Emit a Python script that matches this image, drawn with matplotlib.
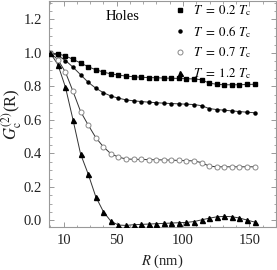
import numpy as np
import matplotlib
matplotlib.use("Agg")
from matplotlib import pyplot as plt
from matplotlib.lines import Line2D
from matplotlib.ticker import FixedLocator, MultipleLocator

plt.rcParams['font.family'] = ['Liberation Serif', 'DejaVu Serif']
plt.rcParams['mathtext.fontset'] = 'stix'

# separation R (nm), 28 points
R = [0.0, 5.7, 11.4, 17.1, 22.8, 28.5, 34.2, 39.9, 45.6, 51.3,
     57.0, 62.7, 68.4, 74.1, 79.8, 85.5, 91.2, 96.9, 102.6, 108.3,
     114.0, 119.7, 125.4, 131.1, 136.8, 142.5, 148.2, 153.9]

g_02 = [1.0, 0.995, 0.982, 0.962, 0.94, 0.918, 0.9, 0.886, 0.875, 0.868,
        0.862, 0.858, 0.855, 0.853, 0.852, 0.85, 0.849, 0.848, 0.846, 0.845,
        0.84, 0.82, 0.813, 0.81, 0.81, 0.81, 0.812, 0.813]
g_06 = [1.0, 0.985, 0.955, 0.915, 0.87, 0.825, 0.79, 0.763, 0.743, 0.73,
        0.72, 0.714, 0.71, 0.706, 0.703, 0.70, 0.698, 0.696, 0.694, 0.692,
        0.685, 0.668, 0.662, 0.658, 0.654, 0.65, 0.646, 0.643]
g_07 = [1.0, 0.96, 0.885, 0.77, 0.65, 0.57, 0.495, 0.44, 0.398, 0.378,
        0.367, 0.365, 0.364, 0.363, 0.362, 0.361, 0.36, 0.358, 0.357, 0.355,
        0.345, 0.324, 0.32, 0.32, 0.32, 0.32, 0.32, 0.32]
g_12 = [1.0, 0.93, 0.795, 0.6, 0.396, 0.277, 0.142, 0.053, -0.005, -0.028,
        -0.03, -0.026, -0.024, -0.022, -0.02, -0.018, -0.016, -0.014, -0.012, -0.007,
        0.003, 0.013, 0.021, 0.024, 0.022, 0.014, 0.002, -0.01]

labels = [r'$T\ =\ 0.2\ T_{\rm c}$', r'$T\ =\ 0.6\ T_{\rm c}$',
          r'$T\ =\ 0.7\ T_{\rm c}$', r'$T\ =\ 1.2\ T_{\rm c}$']

fig = plt.figure(figsize=(2.77, 2.70), dpi=100)
ax = fig.add_axes([0.177, 0.159, 0.819, 0.837])

line_c = '#333333'
styles = [
    dict(marker='s', ms=3.0, mfc='black', mec='black'),
    dict(marker='o', ms=2.2, mfc='black', mec='black'),
    dict(marker='o', ms=3.6, mfc='white', mec='#888888', mew=0.7),
    dict(marker='^', ms=3.6, mfc='black', mec='black'),
]
for g, st in zip([g_02, g_06, g_07, g_12], styles):
    ax.plot(R, g, color=line_c, lw=0.7, zorder=2)
    ax.plot(R, g, ls='none', zorder=3, **st)

handles = [Line2D([], [], ls='none', **st) for st in styles]
ax.legend(handles, labels, loc='upper right', frameon=False, fontsize=9.3,
          handlelength=0.8, handletextpad=0.6, labelspacing=0.45,
          borderaxespad=0.0, borderpad=0.0, bbox_to_anchor=(0.89, 0.99))

ax.text(0.25, 0.915, 'Holes', transform=ax.transAxes, fontsize=10.5)

ax.set_xlim(-1, 170)
ax.set_ylim(-0.04, 1.31)
ax.xaxis.set_major_locator(FixedLocator([10, 50, 100, 150]))
ax.xaxis.set_minor_locator(MultipleLocator(10))
ax.yaxis.set_major_locator(MultipleLocator(0.2))
ax.yaxis.set_minor_locator(MultipleLocator(0.05))
ax.yaxis.set_major_formatter(matplotlib.ticker.FormatStrFormatter('%.1f'))

spine_c = '#999999'
for s in ax.spines.values():
    s.set_color(spine_c)
    s.set_linewidth(0.8)
ax.tick_params(which='both', direction='in', top=True, right=True,
               color=spine_c, labelsize=10.5, labelcolor='#222222')
ax.tick_params(which='major', length=3.5, width=0.7, pad=5)
ax.tick_params(which='minor', length=1.8, width=0.6)

ax.set_xlabel(r'$R$ (nm)', fontsize=10.5, labelpad=4, color='#222222')
ax.set_ylabel(r'$G_{\rm c}^{(2)}$(R)', fontsize=12, labelpad=0, color='#222222')

fig.savefig('out.png', dpi=100)
